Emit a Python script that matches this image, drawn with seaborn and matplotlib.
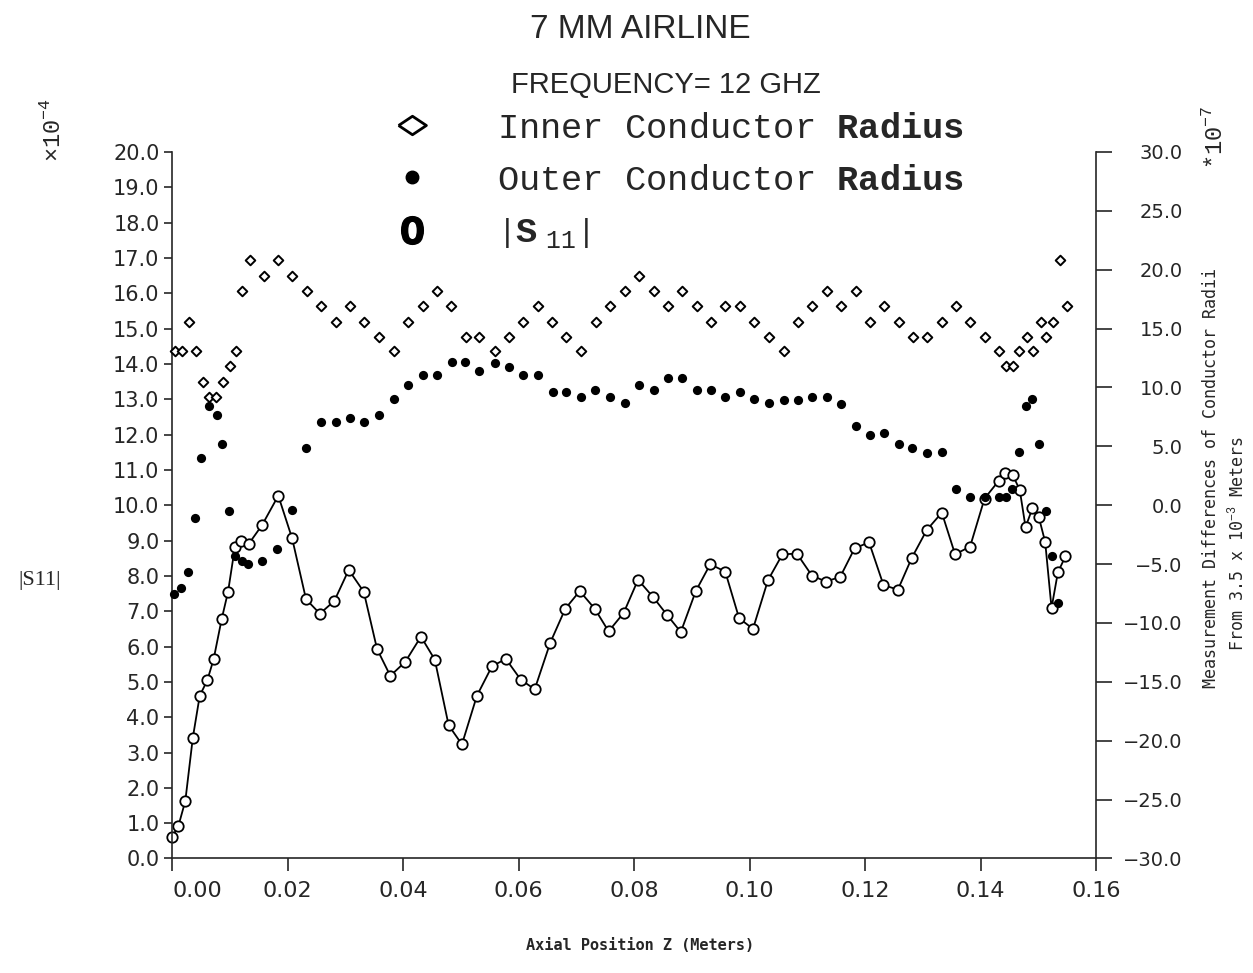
import numpy as np
import pandas as pd
import matplotlib
matplotlib.use("Agg")
import matplotlib.pyplot as plt
from matplotlib.lines import Line2D
from matplotlib.ticker import MultipleLocator, FormatStrFormatter, FuncFormatter
import seaborn as sns

# ── data ────────────────────────────────────────────────────────────
# |S11| (x 1e-4), left axis
s11_x = [0.0000, 0.0011, 0.0023, 0.0036, 0.0048, 0.0061, 0.0072, 0.0086, 0.0097, 0.0109,
         0.0120, 0.0133, 0.0156, 0.0184, 0.0208, 0.0232, 0.0256, 0.0281, 0.0306, 0.0332,
         0.0355, 0.0378, 0.0404, 0.0431, 0.0455, 0.0479, 0.0502, 0.0528, 0.0554, 0.0578,
         0.0604, 0.0628, 0.0655, 0.0681, 0.0706, 0.0732, 0.0756, 0.0782, 0.0807, 0.0833,
         0.0857, 0.0881, 0.0907, 0.0932, 0.0958, 0.0982, 0.1006, 0.1032, 0.1057, 0.1082,
         0.1108, 0.1132, 0.1157, 0.1182, 0.1207, 0.1232, 0.1257, 0.1281, 0.1307, 0.1333,
         0.1356, 0.1382, 0.1407, 0.1432, 0.1443, 0.1456, 0.1468, 0.1478, 0.1490, 0.1501,
         0.1512, 0.1523, 0.1534, 0.1547]
s11_mag = [0.60, 0.92, 1.63, 3.42, 4.61, 5.04, 5.64, 6.78, 7.55, 8.83,
           8.98, 8.91, 9.44, 10.27, 9.06, 7.34, 6.93, 7.29, 8.17, 7.55,
           5.93, 5.17, 5.57, 6.28, 5.63, 3.77, 3.23, 4.61, 5.44, 5.65,
           5.06, 4.79, 6.11, 7.07, 7.57, 7.07, 6.43, 6.95, 7.89, 7.40,
           6.90, 6.41, 7.57, 8.33, 8.12, 6.80, 6.50, 7.88, 8.61, 8.63,
           8.01, 7.84, 7.97, 8.78, 8.95, 7.74, 7.61, 8.51, 9.30, 9.79,
           8.61, 8.83, 10.19, 10.70, 10.91, 10.85, 10.43, 9.38, 9.92, 9.66,
           8.96, 7.09, 8.10, 8.55]

# Inner conductor radius difference (x 1e-7), right axis
inner_x = [0.0005, 0.0018, 0.0029, 0.0042, 0.0053, 0.0064, 0.0076, 0.0088, 0.0100, 0.0111,
           0.0122, 0.0135, 0.0159, 0.0184, 0.0208, 0.0233, 0.0258, 0.0284, 0.0309, 0.0333,
           0.0359, 0.0384, 0.0408, 0.0434, 0.0459, 0.0483, 0.0509, 0.0532, 0.0559, 0.0584,
           0.0608, 0.0634, 0.0658, 0.0683, 0.0709, 0.0734, 0.0759, 0.0784, 0.0809, 0.0834,
           0.0858, 0.0883, 0.0909, 0.0934, 0.0958, 0.0984, 0.1008, 0.1034, 0.1059, 0.1084,
           0.1108, 0.1134, 0.1158, 0.1184, 0.1208, 0.1233, 0.1259, 0.1283, 0.1308, 0.1334,
           0.1358, 0.1382, 0.1408, 0.1432, 0.1445, 0.1456, 0.1467, 0.1480, 0.1491, 0.1504,
           0.1514, 0.1526, 0.1538, 0.1549]
inner_diff = [13.1, 13.1, 15.6, 13.1, 10.5, 9.2, 9.2, 10.5, 11.8, 13.1,
              18.2, 20.8, 19.5, 20.8, 19.5, 18.2, 16.9, 15.6, 16.9, 15.6,
              14.3, 13.1, 15.6, 16.9, 18.2, 16.9, 14.3, 14.3, 13.1, 14.3,
              15.6, 16.9, 15.6, 14.3, 13.1, 15.6, 16.9, 18.2, 19.5, 18.2,
              16.9, 18.2, 16.9, 15.6, 16.9, 16.9, 15.6, 14.3, 13.1, 15.6,
              16.9, 18.2, 16.9, 18.2, 15.6, 16.9, 15.6, 14.3, 14.3, 15.6,
              16.9, 15.6, 14.3, 13.1, 11.8, 11.8, 13.1, 14.3, 13.1, 15.6,
              14.3, 15.6, 20.8, 16.9]

# Outer conductor radius difference (x 1e-7), right axis
outer_x = [0.0003, 0.0016, 0.0027, 0.0039, 0.0051, 0.0064, 0.0077, 0.0087, 0.0098, 0.0109,
           0.0121, 0.0132, 0.0155, 0.0181, 0.0207, 0.0232, 0.0258, 0.0284, 0.0309, 0.0333,
           0.0358, 0.0384, 0.0408, 0.0434, 0.0458, 0.0484, 0.0508, 0.0532, 0.0559, 0.0584,
           0.0608, 0.0634, 0.0659, 0.0683, 0.0709, 0.0733, 0.0759, 0.0784, 0.0809, 0.0834,
           0.0858, 0.0883, 0.0909, 0.0934, 0.0958, 0.0984, 0.1008, 0.1034, 0.1059, 0.1084,
           0.1109, 0.1134, 0.1158, 0.1184, 0.1208, 0.1233, 0.1258, 0.1282, 0.1307, 0.1333,
           0.1357, 0.1381, 0.1407, 0.1432, 0.1445, 0.1455, 0.1467, 0.1478, 0.1490,
           0.1501, 0.1513, 0.1523, 0.1535]
outer_diff = [-7.5, -7.0, -5.7, -1.1, 4.0, 8.4, 7.7, 5.2, -0.5, -4.3,
              -4.7, -5.0, -4.7, -3.7, -0.4, 4.9, 7.1, 7.1, 7.4, 7.1,
              7.7, 9.0, 10.2, 11.1, 11.1, 12.2, 12.2, 11.4, 12.1, 11.7,
              11.1, 11.1, 9.6, 9.6, 9.2, 9.8, 9.2, 8.7, 10.2, 9.8,
              10.8, 10.8, 9.8, 9.8, 9.2, 9.6, 9.0, 8.7, 8.9, 8.9,
              9.2, 9.2, 8.6, 6.7, 6.0, 6.1, 5.2, 4.9, 4.4, 4.5,
              1.4, 0.7, 0.7, 0.7, 0.7, 1.4, 4.5, 8.4, 9.0,
              5.2, -0.5, -4.3, -8.3]

legend_labels = ["Inner Conductor $\\mathbf{Radius}$",
                 "Outer Conductor $\\mathbf{Radius}$",
                 "$\\left|\\mathbf{S}_{\\ 11}\\right|$"]

# ── style ──────────────────────────────────────────────────────────
sns.set_style("ticks")
plt.rcParams["font.family"] = ["DejaVu Sans"]
plt.rcParams["mathtext.fontset"] = "custom"
plt.rcParams["mathtext.rm"] = "Liberation Mono"
plt.rcParams["mathtext.bf"] = "Liberation Mono:bold"
plt.rcParams["axes.linewidth"] = 1.2

fig = plt.figure(figsize=(12.53, 9.73), dpi=100)
ax = fig.add_axes([0.1373, 0.1177, 0.7374, 0.7261])
ax2 = ax.twinx()

sns.lineplot(x=s11_x, y=s11_mag, ax=ax, color="black", linewidth=1.3,
             marker="o", markersize=7.5, markerfacecolor="white",
             markeredgecolor="black", markeredgewidth=1.3,
             estimator=None, sort=False, clip_on=False)
sns.scatterplot(x=inner_x, y=inner_diff, ax=ax2, marker="D", s=24,
                color="white", edgecolor="black", linewidth=1.4, clip_on=False)
sns.scatterplot(x=outer_x, y=outer_diff, ax=ax2, marker="o", s=44,
                color="black", edgecolor="black", linewidth=0, clip_on=False)

ax.set_xlim(0, 0.16)
ax.set_ylim(0, 20)
ax2.set_ylim(-30, 30)
ax.xaxis.set_major_locator(MultipleLocator(0.02))
ax.xaxis.set_major_formatter(FormatStrFormatter("%.2f"))
ax.yaxis.set_major_locator(MultipleLocator(1))
ax.yaxis.set_major_formatter(FormatStrFormatter("%.1f"))
ax2.yaxis.set_major_locator(MultipleLocator(5))
ax2.yaxis.set_major_formatter(FuncFormatter(lambda v, p: f"{v:.1f}".replace("-", "\u2212")))
ax.set_xlabel("")
ax.set_ylabel("")
ax2.set_ylabel("")

for sp in ["top", "right"]:
    ax.spines[sp].set_visible(False)
for sp in ["top", "left", "bottom"]:
    ax2.spines[sp].set_visible(False)

ax.tick_params(axis="y", direction="out", length=6, width=1.2, pad=3, labelsize=15)
ax.tick_params(axis="x", direction="out", length=9, width=1.2, pad=7, labelsize=16)
ax2.tick_params(axis="y", direction="out", length=11.5, width=1.2, pad=51, labelsize=14)
fig.canvas.draw()
for lab in ax2.get_yticklabels():
    lab.set_horizontalalignment("right")
# the 0.00 label sits to the right of the corner
for tick, loc in zip(ax.xaxis.get_major_ticks(), ax.get_xticks()):
    if abs(loc) < 1e-9:
        tick.label1.set_horizontalalignment("left")

# ── titles & legend ────────────────────────────────────────────────
fig.text(640 / 1253, 1 - 30 / 973, "7 MM AIRLINE", ha="center", va="center",
         fontsize=24, family="Liberation Sans")
fig.text(666 / 1253, 1 - 85 / 973, "FREQUENCY= 12 GHZ", ha="center", va="center",
         fontsize=21, family="Liberation Sans")

wide_diamond = [(-1.5, 0), (0, 1), (1.5, 0), (0, -1), (-1.5, 0)]
handles = [
    Line2D([], [], ls="none", marker=wide_diamond, ms=20, mfc="white", mec="black", mew=2),
    Line2D([], [], ls="none", marker="o", ms=9, mfc="black", mec="black"),
    Line2D([], [], ls="none", marker="$\\mathbf{O}$", ms=20, mfc="black", mec="black"),
]
fig.legend(handles, legend_labels, loc="upper left",
           bbox_to_anchor=(377 / 1253, 1 - 94 / 973), frameon=False,
           prop={"family": "Liberation Mono", "size": 25.5},
           borderpad=0, handlelength=1.0, handletextpad=1.9, labelspacing=0.54)

# ── axis annotations ───────────────────────────────────────────────
fig.text(52 / 1253, 1 - 130 / 973, "$\\times10^{-4}$", rotation=90,
         ha="center", va="center", fontsize=17)
fig.text(1214 / 1253, 1 - 137 / 973, "$*10^{-7}$", rotation=90,
         ha="center", va="center", fontsize=17)
fig.text(40 / 1253, 1 - 580 / 973, "|S11|", ha="center", va="center",
         fontsize=16, family="Liberation Serif")
fig.text(1211 / 1253, 1 - 478 / 973, "Measurement Differences of Conductor Radii",
         rotation=90, ha="center", va="center", fontsize=12, family="DejaVu Sans Mono")
fig.text(1237 / 1253, 1 - 543 / 973, "From 3.5 x 10$^{-3}$ Meters",
         rotation=90, ha="center", va="center", fontsize=12, family="DejaVu Sans Mono")
fig.text(640 / 1253, 1 - 945 / 973, "Axial Position Z (Meters)", ha="center", va="center",
         fontsize=11, fontweight="bold", family="DejaVu Sans Mono")

fig.savefig("out.png", dpi=100)
plt.close(fig)
